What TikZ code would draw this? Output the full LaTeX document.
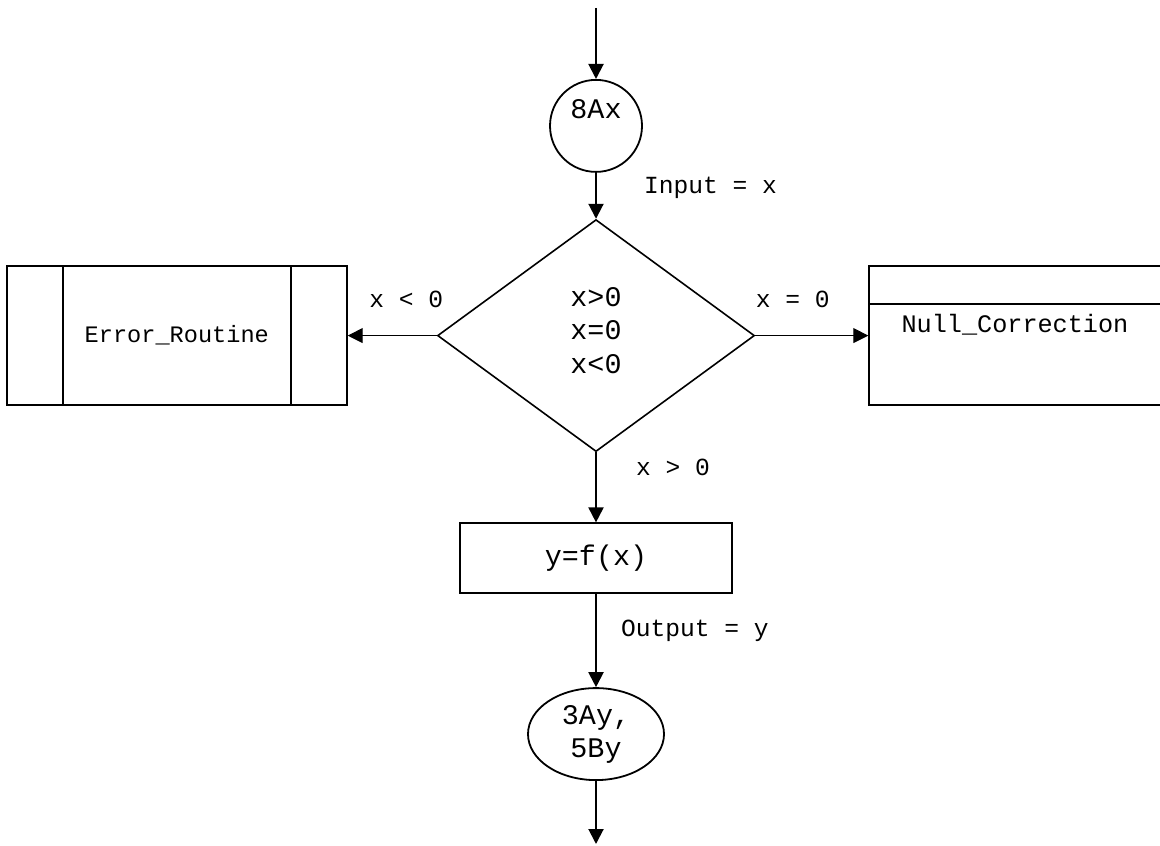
\documentclass[tikz,border=0pt]{standalone}
\usepackage{fontspec}
\newfontfamily\flowfont{Liberation Mono}
\usetikzlibrary{shapes.geometric, arrows.meta, positioning}

\begin{document}
\begin{tikzpicture}[
	font=\flowfont\fontsize{12.3}{15.5}\selectfont,
	big/.style={font=\flowfont\fontsize{14.2}{16.6}\selectfont},
	box/.style={rectangle, draw, line width=0.9pt, align=center, inner sep=0pt},
	term/.style={circle, draw, line width=0.9pt, minimum size=46pt, inner sep=0pt, big},
	decision/.style={diamond, draw, line width=0.8pt, minimum width=158.5pt, minimum height=116pt, inner sep=0pt, align=center, big},
	arrow/.style={-{Triangle[length=7.5pt, width=7.5pt]}, line width=1pt},
	thinarrow/.style={-{Triangle[length=7.5pt, width=7.5pt]}, line width=0.5pt},
	cond/.style={inner sep=0pt}
]
	\useasboundingbox (0,0) rectangle (580pt,422.5pt);

	% Entry
	\coordinate (in) at (298pt,418.5pt);
	\node[term, text height=9.5pt, text depth=17pt, below=35.5pt of in] (start) {8Ax};

	% Decision
	\node[decision, below=23pt of start] (check) {};
	\node[cond, big, align=center] (checktext) at ([yshift=2.5pt]check.center) {x>0\\x=0\\x<0};

	% Branches
	\node[box, minimum width=170pt, minimum height=69.5pt, left=44.5pt of check, font=\flowfont\fontsize{11.8}{14}\selectfont] (error) {Error\_Routine};
	\draw[line width=0.9pt] ([xshift=28.5pt]error.north west) -- ([xshift=28.5pt]error.south west);
	\draw[line width=0.9pt] ([xshift=-28.5pt]error.north east) -- ([xshift=-28.5pt]error.south east);
	\node[box, minimum width=145.75pt, minimum height=69.5pt, right=56.5pt of check] (nullfix) {};
	\draw[line width=0.9pt] ([yshift=-19.5pt]nullfix.north west) -- ([yshift=-19.5pt]nullfix.north east);
	\node[cond, anchor=base, font=\flowfont\fontsize{12.6}{15}\selectfont] (nulltext) at ([yshift=-33.5pt]nullfix.north) {Null\_Correction};

	% Main line
	\node[box, big, minimum width=136pt, minimum height=35pt, below=35pt of check] (calc) {y=f(x)};
	\node[ellipse, draw, big, line width=0.9pt, minimum width=68pt, minimum height=46pt, inner sep=0pt, align=center, below=46.5pt of calc] (result) {3Ay,\\5By};
	\coordinate[below=31.5pt of result] (out);

	% Arrows
	\draw[arrow] (in) -- (start);
	\draw[arrow] (start) -- node[cond, right=23.5pt, yshift=4pt] (lblin) {Input = x} (check);
	\draw[thinarrow] (check) -- node[cond, above=13.5pt, xshift=7pt] (lblneg) {x < 0} (error);
	\draw[thinarrow] (check) -- node[cond, above=13.5pt, xshift=-9.5pt] (lblzero) {x = 0} (nullfix);
	\draw[arrow] (check) -- node[cond, right=19.5pt, yshift=10pt] (lblpos) {x > 0} (calc);
	\draw[arrow] (calc) -- node[cond, right=12pt, yshift=5pt] (lblout) {Output = y} (result);
	\draw[arrow] (result) -- (out);
\end{tikzpicture}
\end{document}
